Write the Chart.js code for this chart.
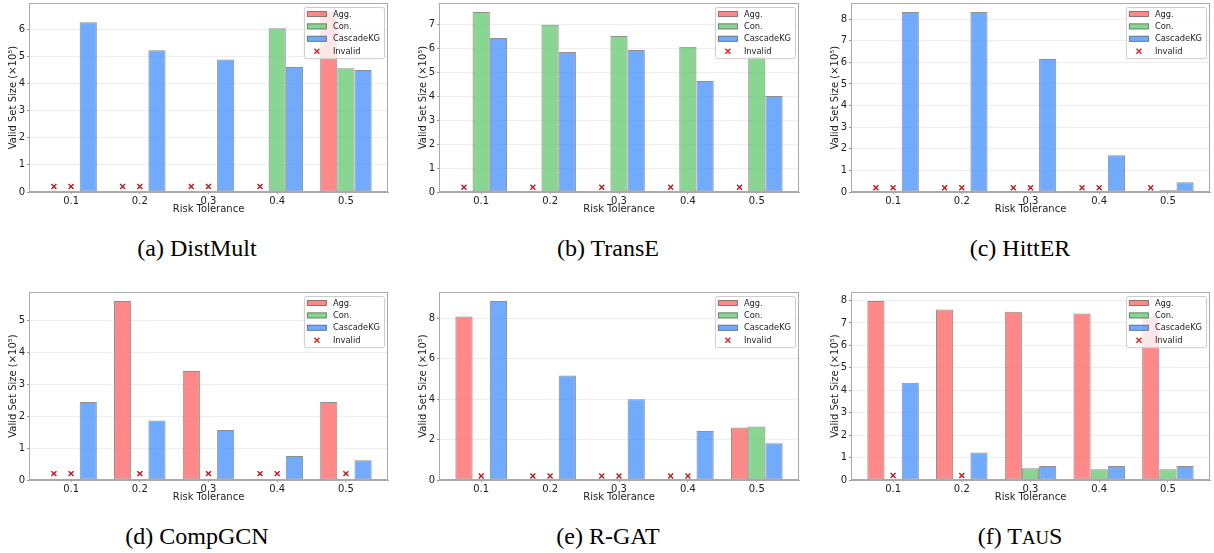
<!DOCTYPE html>
<html>
<head>
<meta charset="utf-8">
<script src="https://cdn.jsdelivr.net/npm/chart.js@4.4.1/dist/chart.umd.min.js"></script>
<style>
  body { margin: 0; background: #fff; width: 1214px; height: 553px; position: relative; overflow: hidden; }
  canvas { position: absolute; }
  .caption {
    position: absolute; transform: translate(-50%, -50%); white-space: nowrap;
    font-family: "Liberation Serif", "Times New Roman", serif; font-size: 24px; color: #000;
  }
</style>
</head>
<body>
<script>
// tick labels / series names
const riskLabels = ['0.1', '0.2', '0.3', '0.4', '0.5'];
const seriesNames = ['Agg.', 'Con.', 'CascadeKG'];
const invalidLevel = 0.2;   // where the "Invalid" crosses sit (x10^5)

// values in units of 10^5, null = invalid
const distMultAgg = [null, null, null, null, 6.63];
const distMultCon = [null, null, null, 6.03, 4.56];
const distMultCas = [6.25, 5.22, 4.88, 4.60, 4.49];

const transEAgg = [null, null, null, null, null];
const transECon = [7.50, 6.97, 6.50, 6.05, 5.62];
const transECas = [6.42, 5.83, 5.92, 4.62, 4.00];

const hittERAgg = [null, null, null, null, null];
const hittERCon = [null, null, null, null, 0.08];
const hittERCas = [8.33, 8.33, 6.15, 1.70, 0.45];

const compGCNAgg = [null, 5.62, 3.42, null, 2.45];
const compGCNCon = [null, null, null, null, null];
const compGCNCas = [2.45, 1.87, 1.57, 0.75, 0.62];

const rgatAgg = [8.10, null, null, null, 2.60];
const rgatCon = [null, null, null, null, 2.65];
const rgatCas = [8.87, 5.18, 4.00, 2.43, 1.82];

const tausAgg = [7.98, 7.60, 7.50, 7.42, 7.28];
const tausCon = [null, null, 0.52, 0.48, 0.48];
const tausCas = [4.33, 1.23, 0.62, 0.62, 0.62];

const panels = [
    { caption: '(a) DistMult', series: [distMultAgg, distMultCon, distMultCas], step: 1, col: 0, row: 0 },
    { caption: '(b) TransE',   series: [transEAgg, transECon, transECas],       step: 1, col: 1, row: 0 },
    { caption: '(c) HittER',   series: [hittERAgg, hittERCon, hittERCas],       step: 1, col: 2, row: 0 },
    { caption: '(d) CompGCN',  series: [compGCNAgg, compGCNCon, compGCNCas],    step: 1, col: 0, row: 1 },
    { caption: '(e) R-GAT',    series: [rgatAgg, rgatCon, rgatCas],             step: 2, col: 1, row: 1 },
    { caption: '(f) T<span style="font-size:0.78em">AU</span>S', series: [tausAgg, tausCon, tausCas], step: 1, col: 2, row: 1 }
];

// plot-area edges in the page
const colLeft = [29, 439, 851];
const colRight = [388, 799, 1210];
const rowTop = [3, 292];
const rowBottom = [192, 480];
const captionX = [197, 608, 1020];
const captionY = [248, 536];

const barFill = ['rgba(255,107,107,0.8)', 'rgba(107,203,119,0.8)', 'rgba(77,150,255,0.8)'];
const barEdge = 'rgba(105,105,105,0.75)';
const crossColor = '#b31b24';
const textColor = '#222';
const baseFont = { family: '"DejaVu Sans", sans-serif', size: 10 };

const groupWidth = 0.75;               // three bars of 0.25 each
const xPad = (riskLabels.length - 1 + groupWidth) * 0.05;

// box round the plot, like matplotlib spines
const frameBox = {
    id: 'frameBox',
    afterDraw(chart) {
        const { ctx, chartArea: a } = chart;
        ctx.save();
        ctx.strokeStyle = '#aaaaaa';
        ctx.lineWidth = 1;
        ctx.strokeRect(Math.round(a.left) + 0.5, Math.round(a.top) + 0.5,
            Math.round(a.right - a.left) - 1, Math.round(a.bottom - a.top) - 1);
        ctx.restore();
    }
};

// legend inside the plot, upper right
const insideLegend = {
    id: 'insideLegend',
    afterDraw(chart) {
        const { ctx, chartArea: a } = chart;
        const sets = chart.data.datasets;
        const fs = 8.3;
        ctx.save();
        ctx.font = fs + 'px "DejaVu Sans"';
        const textW = Math.max(...sets.map(d => ctx.measureText(d.label).width));
        const handleW = 20, handleH = 6, rowH = 12.4;
        const w = 3 + handleW + 6 + textW + 4;
        const h = 14 + rowH * (sets.length - 1);
        const x0 = a.right - 4 - w, y0 = a.top + 4;
        ctx.beginPath();
        ctx.roundRect(x0 + 0.5, y0 + 0.5, w, h, 2);
        ctx.fillStyle = 'rgba(255,255,255,0.8)';
        ctx.fill();
        ctx.strokeStyle = '#cccccc';
        ctx.lineWidth = 1;
        ctx.stroke();
        sets.forEach((d, i) => {
            const cy = y0 + 7 + i * rowH;
            const hx = x0 + 3;
            if (d.type === 'bar') {
                ctx.fillStyle = d.backgroundColor;
                ctx.fillRect(hx, cy - handleH / 2, handleW, handleH);
                ctx.strokeStyle = barEdge;
                ctx.strokeRect(hx + 0.5, cy - handleH / 2 + 0.5, handleW - 1, handleH - 1);
            } else {
                const cx = hx + handleW / 2, s = 2.5;
                ctx.strokeStyle = '#e3201f';
                ctx.lineWidth = 1.4;
                ctx.beginPath();
                ctx.moveTo(cx - s, cy - s); ctx.lineTo(cx + s, cy + s);
                ctx.moveTo(cx - s, cy + s); ctx.lineTo(cx + s, cy - s);
                ctx.stroke();
            }
            ctx.fillStyle = textColor;
            ctx.textBaseline = 'middle';
            ctx.textAlign = 'left';
            ctx.fillText(d.label, hx + handleW + 6, cy + 0.5);
        });
        ctx.restore();
    }
};

panels.forEach(p => {
    const L = colLeft[p.col], R = colRight[p.col];
    const T = rowTop[p.row], B = rowBottom[p.row];
    const cv = document.createElement('canvas');
    const left = L - 29, top = T - 8;
    cv.width = R + 6 - left;
    cv.height = B + 28 - top;
    cv.style.left = left + 'px';
    cv.style.top = top + 'px';
    document.body.appendChild(cv);

    const cap = document.createElement('div');
    cap.className = 'caption';
    cap.innerHTML = p.caption;
    cap.style.left = captionX[p.col] + 'px';
    cap.style.top = captionY[p.row] + 'px';
    document.body.appendChild(cap);

    const datasets = p.series.map((vals, k) => ({
        type: 'bar',
        label: seriesNames[k],
        data: vals.map((v, i) => ({ x: i, y: v })),
        backgroundColor: barFill[k],
        borderColor: barEdge,
        borderWidth: 1,
        borderSkipped: false,
        categoryPercentage: groupWidth,
        barPercentage: 1.0,
        order: 2
    }));

    // a cross wherever a method gives no valid set
    const invalid = [];
    p.series.forEach((vals, k) => {
        vals.forEach((v, i) => {
            if (v === null) invalid.push({ x: i + (k - 1) * groupWidth / 3, y: invalidLevel });
        });
    });
    datasets.push({
        type: 'scatter',
        label: 'Invalid',
        data: invalid,
        pointStyle: 'crossRot',
        pointRadius: 3.5,
        borderColor: crossColor,
        backgroundColor: crossColor,
        borderWidth: 1.4,
        order: 1
    });

    const maxVal = Math.max(...p.series.flat().filter(v => v !== null));

    new Chart(cv.getContext('2d'), {
        type: 'bar',
        data: { datasets: datasets },
        plugins: [frameBox, insideLegend],
        options: {
            responsive: false,
            animation: false,
            devicePixelRatio: 1,
            layout: { padding: { left: 0, top: 8, right: 6, bottom: 0 } },
            plugins: { legend: { display: false }, tooltip: { enabled: false } },
            scales: {
                x: {
                    type: 'linear',
                    offset: false,
                    min: -xPad - groupWidth / 2,
                    max: riskLabels.length - 1 + groupWidth / 2 + xPad,
                    afterBuildTicks: s => { s.ticks = riskLabels.map((_, i) => ({ value: i })); },
                    afterFit: s => { s.height = 28; },
                    ticks: {
                        callback: v => riskLabels[v],
                        font: baseFont, color: textColor,
                        padding: 1, maxRotation: 0, autoSkip: false
                    },
                    grid: { offset: false, drawOnChartArea: false, tickLength: 2, tickColor: '#999' },
                    border: { color: '#aaaaaa' },
                    title: {
                        display: true, text: 'Risk Tolerance',
                        font: baseFont, color: textColor,
                        padding: { top: 0, bottom: 5 }
                    }
                },
                y: {
                    min: 0,
                    max: maxVal * 1.05,
                    afterFit: s => { s.width = 29; },
                    ticks: { stepSize: p.step, includeBounds: false, font: baseFont, color: textColor, padding: 2 },
                    grid: { color: 'rgba(0,0,0,0.07)', tickLength: 2, tickColor: '#999' },
                    border: { color: '#aaaaaa' },
                    title: {
                        display: true, text: 'Valid Set Size (×10⁵)',
                        font: baseFont, color: textColor,
                        padding: { top: 7, bottom: 0 }
                    }
                }
            }
        }
    });
});
</script>
</body>
</html>
